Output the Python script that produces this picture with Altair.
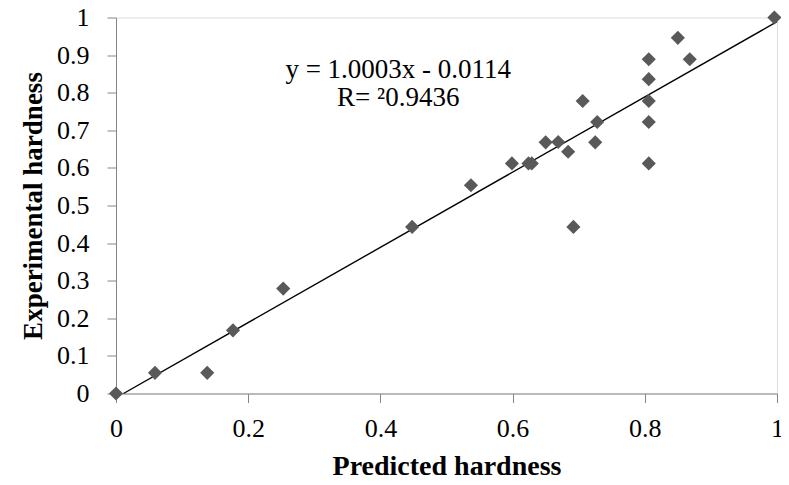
import altair as alt
import pandas as pd

# Data
predicted = [0.000, 0.059, 0.138, 0.177, 0.253, 0.448, 0.537, 0.599, 0.624, 0.629,
             0.650, 0.669, 0.684, 0.692, 0.706, 0.725, 0.728,
             0.806, 0.806, 0.806, 0.806, 0.806, 0.850, 0.868, 0.996]
experimental = [0.000, 0.055, 0.055, 0.168, 0.279, 0.443, 0.554, 0.612, 0.612, 0.612,
                0.668, 0.669, 0.643, 0.443, 0.778, 0.668, 0.722,
                0.889, 0.836, 0.778, 0.722, 0.612, 0.946, 0.889, 1.000]

slope = 1.0003
intercept = -0.0114
eq_text = "y = 1.0003x - 0.0114"
r2_text = "R= \u00b20.9436"

x_ticks = [0, 0.2, 0.4, 0.6, 0.8, 1]
y_ticks = [0, 0.1, 0.2, 0.3, 0.4, 0.5, 0.6, 0.7, 0.8, 0.9, 1]

pts = pd.DataFrame({"pred": predicted, "exp": experimental})
x0 = -intercept / slope
line_df = pd.DataFrame({"pred": [x0, 1.0]})

FONT = "Liberation Serif"
AX = "#868686"

xscale = alt.Scale(domain=[0, 1], nice=False, zero=False)
yscale = alt.Scale(domain=[0, 1], nice=False, zero=False)

x_axis = alt.Axis(values=x_ticks, format=".1~f", grid=False, domainColor=AX, tickColor=AX,
                  tickSize=9, labelFont=FONT, labelFontSize=26, labelColor="#000",
                  labelPadding=13, labelOverlap=False, labelFlush=False,
                  title="Predicted hardness", titleFont=FONT,
                  titleFontSize=28, titleFontWeight="bold", titleColor="#000", titlePadding=11)
y_axis = alt.Axis(values=y_ticks, format=".1~f", grid=False, domainColor=AX, tickColor=AX,
                  tickSize=9, labelFont=FONT, labelFontSize=26, labelColor="#000",
                  labelPadding=18, labelOverlap=False, labelFlush=False,
                  title="Experimental hardness", titleFont=FONT,
                  titleFontSize=27, titleFontWeight="bold", titleColor="#000", titlePadding=9)

points = alt.Chart(pts).mark_point(shape="diamond", filled=True, color="#595959",
                                   size=200, opacity=1).encode(
    x=alt.X("pred:Q", scale=xscale, axis=x_axis),
    y=alt.Y("exp:Q", scale=yscale, axis=y_axis),
)

trend = alt.Chart(line_df).transform_calculate(
    exp=f"{slope} * datum.pred + ({intercept})"
).mark_line(color="#000000", strokeWidth=1.4).encode(
    x=alt.X("pred:Q", scale=xscale, axis=x_axis),
    y=alt.Y("exp:Q", scale=yscale, axis=y_axis),
)

t1 = alt.Chart(pd.DataFrame({"t": [eq_text]})).mark_text(
    font=FONT, fontSize=27, align="center", baseline="alphabetic", color="#000"
).encode(x=alt.XDatum(0.427, scale=xscale, axis=x_axis),
         y=alt.YDatum(0.838, scale=yscale, axis=y_axis), text="t:N")

t2 = alt.Chart(pd.DataFrame({"t": [r2_text]})).mark_text(
    font=FONT, fontSize=27, align="center", baseline="alphabetic", color="#000"
).encode(x=alt.XDatum(0.427, scale=xscale, axis=x_axis),
         y=alt.YDatum(0.765, scale=yscale, axis=y_axis), text="t:N")

chart = alt.layer(trend, points, t1, t2).properties(
    width=661, height=376,
    autosize=alt.AutoSizeParams(type="none"),
    padding={"left": 108, "top": 9.5, "right": 4, "bottom": 83.5},
).configure_view(stroke=None).configure(background="white")

chart.save("out.html", embed_options={"renderer": "svg", "actions": False})
